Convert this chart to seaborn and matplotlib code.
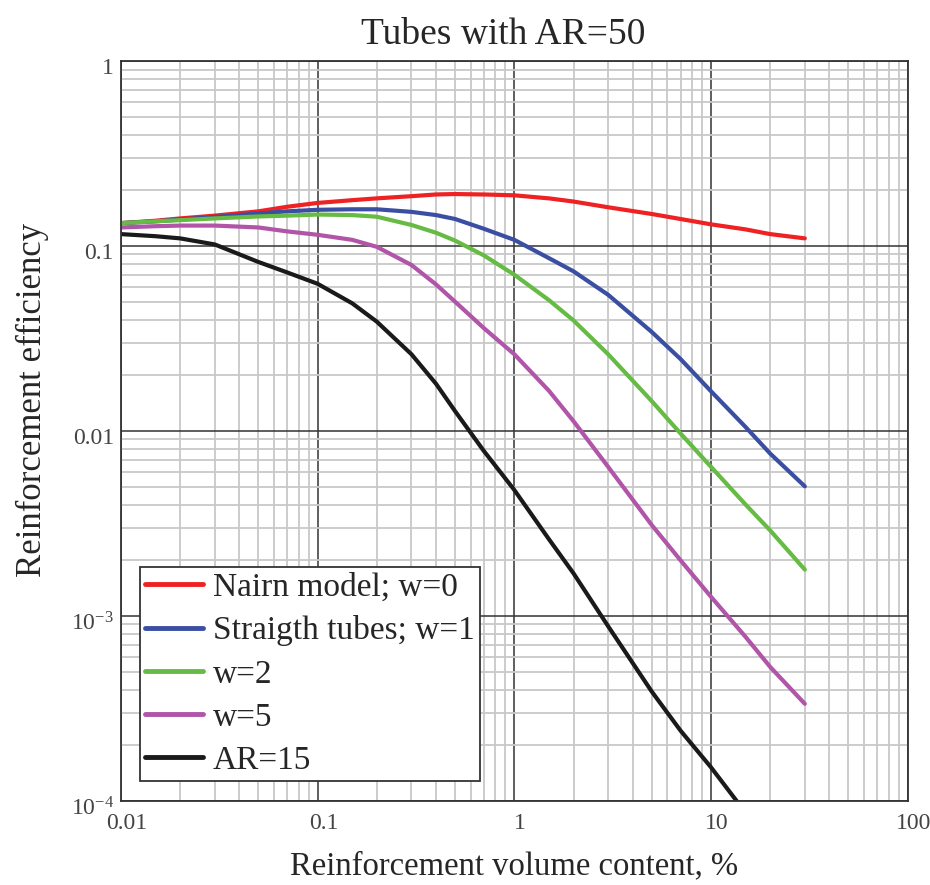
import numpy as np
import pandas as pd
import matplotlib
matplotlib.use("Agg")
import matplotlib.pyplot as plt
import matplotlib.transforms as mtransforms
import seaborn as sns
from matplotlib.ticker import LogLocator, NullFormatter

# values
content = [0.01, 0.015, 0.02, 0.03, 0.05, 0.07, 0.1, 0.15, 0.2, 0.3, 0.4, 0.5,
           0.7, 1, 1.5, 2, 3, 5, 7, 10, 15, 20, 30]
nairn = [0.133, 0.137, 0.141, 0.146, 0.154, 0.163, 0.171, 0.177, 0.181, 0.186,
         0.190, 0.191, 0.190, 0.188, 0.181, 0.174, 0.162, 0.149, 0.140, 0.131,
         0.123, 0.116, 0.110]
straight = [0.133, 0.136, 0.139, 0.1435, 0.150, 0.154, 0.157, 0.158, 0.158, 0.153,
            0.147, 0.140, 0.124, 0.108, 0.086, 0.073, 0.0545, 0.0343, 0.0245,
            0.0164, 0.0105, 0.00755, 0.00502]
w2 = [0.133, 0.136, 0.138, 0.141, 0.1445, 0.146, 0.148, 0.147, 0.144, 0.130,
      0.118, 0.107, 0.089, 0.070, 0.051, 0.0396, 0.026, 0.0145, 0.0097, 0.0064,
      0.0040, 0.0029, 0.00178]
w5 = [0.126, 0.128, 0.129, 0.129, 0.126, 0.120, 0.115, 0.108, 0.099, 0.079,
      0.062, 0.050, 0.036, 0.026, 0.0165, 0.0113, 0.0064, 0.0031, 0.0020,
      0.00127, 0.00077, 0.00053, 0.000335]
ar15_x = [0.01, 0.015, 0.02, 0.03, 0.05, 0.07, 0.1, 0.15, 0.2, 0.3, 0.4, 0.5,
          0.7, 1, 1.5, 2, 3, 5, 7, 10, 13.5]
ar15 = [0.116, 0.113, 0.110, 0.102, 0.082, 0.072, 0.0625, 0.049, 0.039, 0.026,
        0.018, 0.0128, 0.0078, 0.0048, 0.0026, 0.0017, 0.00088, 0.00039,
        0.00024, 0.000152, 0.0001]

labels = ["Nairn model; w=0", "Straigth tubes; w=1", "w=2", "w=5", "AR=15"]
colors = ["#ee2222", "#3a4fa2", "#66bb44", "#b055a8", "#1a1a1a"]

frames = []
for name, xs, ys in zip(labels,
                        [content, content, content, content, ar15_x],
                        [nairn, straight, w2, w5, ar15]):
    frames.append(pd.DataFrame({"x": xs, "y": ys, "series": name}))
df = pd.concat(frames, ignore_index=True)

sns.set_style("white")
plt.rcParams["font.family"] = ["Liberation Serif", "DejaVu Serif"]
plt.rcParams["mathtext.fontset"] = "custom"
plt.rcParams["mathtext.rm"] = "Liberation Serif"
plt.rcParams["mathtext.it"] = "Liberation Serif:italic"

fig = plt.figure(figsize=(9.3, 8.85), dpi=100)
ax = fig.add_axes([0.130, 0.095, 0.846, 0.836])

sns.lineplot(data=df, x="x", y="y", hue="series", hue_order=labels,
             palette=colors, linewidth=3, ax=ax, estimator=None, sort=False)
for line in ax.get_lines():
    line.set_solid_joinstyle("round")

ax.set_xscale("log")
ax.set_yscale("log")
ax.set_xlim(0.01, 100)
ax.set_ylim(1e-4, 1)

ax.xaxis.set_minor_locator(LogLocator(base=10, subs=np.arange(2, 10)))
ax.yaxis.set_minor_locator(LogLocator(base=10, subs=np.arange(2, 10)))
ax.xaxis.set_minor_formatter(NullFormatter())
ax.yaxis.set_minor_formatter(NullFormatter())
ax.grid(True, which="minor", color="#c8c8c8", linewidth=1.3)
ax.grid(True, which="major", color="#333333", linewidth=1.1)
ax.set_axisbelow(True)

ax.set_xticks([0.01, 0.1, 1, 10, 100])
ax.set_xticklabels(["0.01", "0.1", "1", "10", "100"])
ax.set_yticks([1e-4, 1e-3, 0.01, 0.1, 1])
ax.set_yticklabels([r"$10^{-4}$", r"$10^{-3}$", "0.01", "0.1", "1"])
ax.tick_params(axis="both", which="both", length=0, labelsize=17,
               labelcolor="#444444")
ax.tick_params(axis="x", pad=9)
ax.tick_params(axis="y", pad=5)

# the reference labels sit a little right of / below their grid lines
shift_x = mtransforms.ScaledTranslation(6 / 100, 0, fig.dpi_scale_trans)
for lab in ax.get_xticklabels():
    lab.set_transform(lab.get_transform() + shift_x)
shift_y = mtransforms.ScaledTranslation(0, -5 / 100, fig.dpi_scale_trans)
for lab in ax.get_yticklabels():
    lab.set_transform(lab.get_transform() + shift_y)

for s in ax.spines.values():
    s.set_color("#333333")
    s.set_linewidth(1.3)

ax.set_title("Tubes with AR=50", fontsize=27, pad=12, x=0.486)
ax.set_xlabel("Reinforcement volume content, %", fontsize=23.5)
ax.set_ylabel("Reinforcement efficiency", fontsize=25)
ax.xaxis.set_label_coords(0.5, -0.068)
ax.yaxis.set_label_coords(-0.091, 0.542)

leg = ax.legend(loc="lower left", bbox_to_anchor=(0.024, 0.027), fontsize=24,
                frameon=True, fancybox=False, framealpha=1, edgecolor="#333333",
                borderpad=0.15, labelspacing=0.38, handlelength=1.75,
                handletextpad=0.3, borderaxespad=0)
leg.get_frame().set_linewidth(1.3)
for line in leg.get_lines():
    line.set_linewidth(3.5)

fig.savefig("out.png", dpi=100)
